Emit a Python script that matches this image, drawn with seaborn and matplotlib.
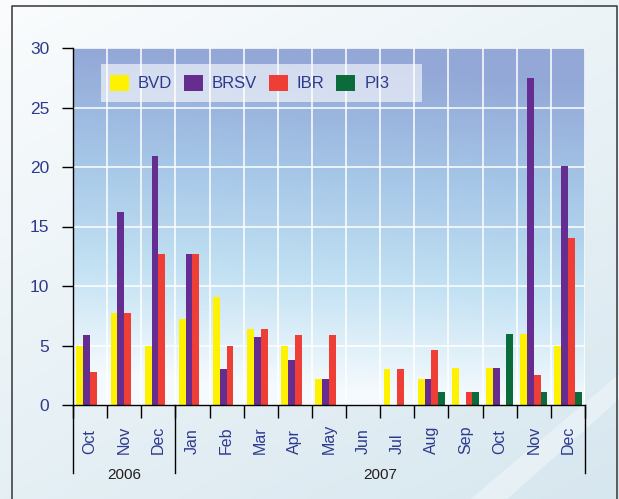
import numpy as np
import pandas as pd
import seaborn as sns
import matplotlib.pyplot as plt
from matplotlib.colors import LinearSegmentedColormap
from matplotlib.patches import Polygon, Rectangle

months = ["Oct", "Nov", "Dec", "Jan", "Feb", "Mar", "Apr", "May",
          "Jun", "Jul", "Aug", "Sep", "Oct", "Nov", "Dec"]
years = ["2006"] * 3 + ["2007"] * 12
diseases = ["BVD", "BRSV", "IBR", "PI3"]

bvd = [5.0, 7.7, 5.0, 7.25, 9.05, 6.4, 5.0, 2.2, 0, 3.0, 2.2, 3.15, 3.15, 6.0, 5.0]
brsv = [5.9, 16.25, 20.9, 12.65, 3.0, 5.75, 3.75, 2.2, 0, 0, 2.2, 0, 3.15, 27.5, 20.05]
ibr = [2.75, 7.7, 12.65, 12.65, 5.0, 6.4, 5.9, 5.9, 0, 3.0, 4.65, 1.1, 0, 2.55, 14.0]
pi3 = [0, 0, 0, 0, 0, 0, 0, 0, 0, 0, 1.1, 1.1, 6.0, 1.1, 1.1]

colors = {"BVD": "#fff200", "BRSV": "#662d91", "IBR": "#ef3e36", "PI3": "#0b6b3a"}
txt_blue = "#2e3a8c"

periods = [f"{m} {y}" for m, y in zip(months, years)]
df = pd.DataFrame({"period": periods * 4,
                   "disease": np.repeat(diseases, len(periods)),
                   "value": bvd + brsv + ibr + pi3})

plt.rcParams["font.family"] = ["Liberation Sans", "DejaVu Sans"]

fig = plt.figure(figsize=(6.19, 4.99), dpi=100)

# page background with light gradient and diagonal sheen
bg = fig.add_axes([0, 0, 1, 1], zorder=-10)
yy, xx = np.mgrid[0:1:200j, 0:1:200j]
bg.imshow(0.6 * yy + 0.4 * xx, extent=(0, 1, 0, 1), aspect="auto", origin="upper",
          cmap=LinearSegmentedColormap.from_list("pg", ["#fafcfd", "#d7e7ef"]))
bg.add_patch(Polygon([(0.76, 0), (0.82, 0), (1, 0.2), (1, 0.25)], closed=True,
                     color="white", alpha=0.35, lw=0))
bg.plot([12 / 619, 12 / 619, 617 / 619, 617 / 619], [0, 1 - 6 / 499, 1 - 6 / 499, 0],
        color="#444444", lw=1.2)
bg.set_xlim(0, 1)
bg.set_ylim(0, 1)
bg.axis("off")

ax = fig.add_axes([73 / 619, 1 - 405 / 499, 512 / 619, 357 / 499])
ax.set_facecolor("none")

sns.barplot(data=df, x="period", y="value", hue="disease", palette=colors,
            width=0.8, saturation=1, ax=ax, zorder=3)

ax.set_xlim(-0.5, len(periods) - 0.5)
ax.set_ylim(0, 30)

# plot area gradient
gy, gx = np.mgrid[0:1:200j, 0:1:200j]
grad = np.clip(gy * 1.1 - 0.1 * gx, 0, 1)
ax.imshow(grad, extent=(-0.5, len(periods) - 0.5, 0, 30), aspect="auto", origin="upper",
          zorder=0.1, cmap=LinearSegmentedColormap.from_list(
              "pa", ["#93a8d7", "#a5c6e7", "#c2e1f3", "#f4fafd"]))

ax.set_xticks(np.arange(-0.5, len(periods), 1.0))
ax.set_xticklabels([])
ax.set_xticks(np.arange(len(periods)), minor=True)
ax.tick_params(axis="x", which="major", direction="out", length=9.5, width=1, color="black")
ax.tick_params(axis="x", which="minor", length=0)
ax.set_yticks(range(0, 31, 5))
ax.tick_params(axis="y", direction="out", length=8, width=1, pad=9,
               labelsize=12.5, labelcolor=txt_blue)
ax.grid(True, which="major", color="white", lw=1.1)
ax.set_axisbelow(True)
for gl in ax.get_xgridlines() + ax.get_ygridlines():
    gl.set_zorder(0.5)

for s in ["top", "right"]:
    ax.spines[s].set_visible(False)
for s in ["left", "bottom"]:
    ax.spines[s].set_color("black")
    ax.spines[s].set_linewidth(1)
    ax.spines[s].set_zorder(4)
ax.set_xlabel("")
ax.set_ylabel("")

xt = ax.get_xaxis_transform()
for i, m in enumerate(months):
    ax.text(i, -0.136, m, rotation=90, ha="center", va="bottom", transform=xt,
            fontsize=11.5, color=txt_blue)

# year separators and labels
bounds = [-0.5, 2.5, len(periods) - 0.5]
for b in bounds:
    ax.plot([b, b], [0, -0.19], transform=xt, color="black", lw=1, clip_on=False)
for yr in ["2006", "2007"]:
    idx = [i for i, y in enumerate(years) if y == yr]
    ax.text((idx[0] + idx[-1]) / 2, -0.195, yr, transform=xt, ha="center", va="center",
            fontsize=11, color="#231f20")

# legend: translucent panel + seaborn legend entries
ax.add_patch(Rectangle((0.0547, 0.849), 0.627, 0.106, transform=ax.transAxes,
                       facecolor="white", alpha=0.6, lw=0, zorder=4.5))
sns.move_legend(ax, "center left", bbox_to_anchor=(0.0723, 0.902), ncol=4, title=None,
                frameon=False, fontsize=12, handlelength=1.12, handleheight=1.12,
                handletextpad=0.56, columnspacing=0.7, borderpad=0, borderaxespad=0)
leg = ax.get_legend()
for t in leg.get_texts():
    t.set_color(txt_blue)
leg.set_zorder(5)

fig.savefig("out.png", dpi=100)
